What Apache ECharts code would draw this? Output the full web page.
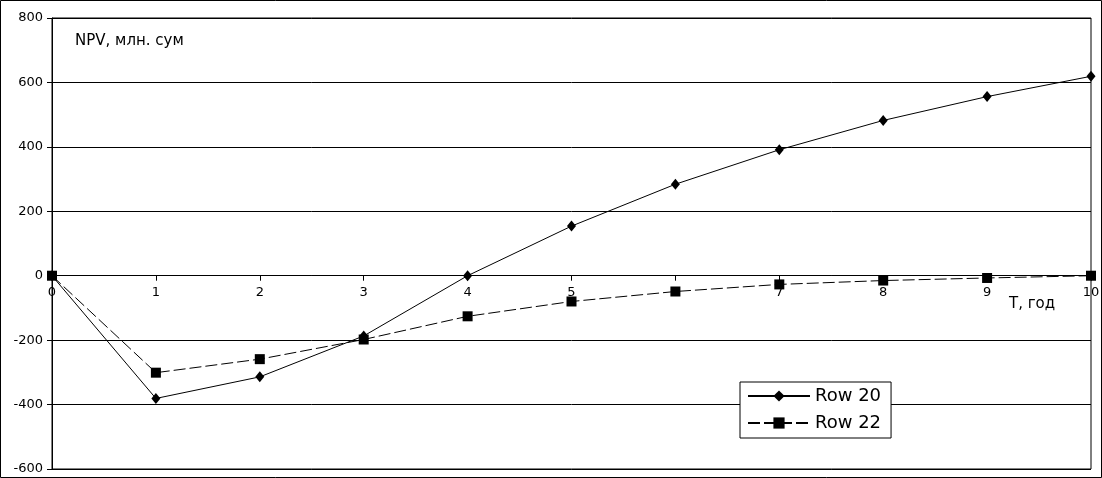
<!DOCTYPE html>
<html>
<head>
<meta charset="utf-8">
<script src="https://cdn.jsdelivr.net/npm/echarts@6/dist/echarts.min.js"></script>
<style>
html,body{margin:0;padding:0;background:#fff;}
#c{width:1102px;height:478px;}
</style>
</head>
<body>
<div id="c"></div>
<script>
const categories = ['0','1','2','3','4','5','6','7','8','9','10'];
const row20 = [0, -381, -314, -187, 0, 154, 284, 391, 482, 556, 619];
const row22 = [0, -301, -259, -198, -126, -80, -49, -27, -15, -7, 0];
const seriesNames = ['Row 20', 'Row 22'];
const yTicks = {min: -600, max: 800, interval: 200};
const yTitle = 'NPV, млн. сум';
const xTitle = 'T, год';

const font = 'DejaVu Sans';
const W = 1102, H = 478;
const gridBox = {left: 52, right: 11, top: 18, bottom: 9};
const plotH = H - gridBox.top - gridBox.bottom;
// put the category axis on the y = 0 line
const xAxisOffset = -((0 - yTicks.min) / (yTicks.max - yTicks.min)) * plotH;

const chart = echarts.init(document.getElementById('c'));
chart.setOption({
  animation: false,
  backgroundColor: '#fff',
  textStyle: {fontFamily: font, color: '#000'},
  grid: Object.assign({containLabel: false, outerBoundsMode: 'none', show: true, borderColor: '#000', borderWidth: 1, backgroundColor: 'transparent'}, gridBox),
  graphic: [
    {type: 'rect', shape: {x: 0.5, y: 0.5, width: W - 1, height: H - 1}, style: {fill: 'none', stroke: '#000', lineWidth: 1}, z: 100},
    {type: 'text', left: 75, top: 34, style: {text: yTitle, font: '15px "DejaVu Sans"', fill: '#000'}},
    {type: 'text', left: 1009, top: 297, style: {text: xTitle, font: '15px "DejaVu Sans"', fill: '#000'}}
  ],
  legend: {
    orient: 'vertical',
    left: 740, top: 382,
    backgroundColor: '#fff',
    borderColor: '#000', borderWidth: 1,
    padding: [5, 10, 6, 7],
    itemWidth: 62, itemHeight: 14, itemGap: 9,
    textStyle: {fontFamily: font, fontSize: 18, lineHeight: 18, color: '#000'},
    data: seriesNames
  },
  xAxis: {
    type: 'category',
    data: categories,
    boundaryGap: false,
    position: 'bottom',
    offset: xAxisOffset,
    axisLine: {show: true, onZero: false, lineStyle: {color: '#000', width: 1}},
    axisTick: {show: true, length: 5, alignWithLabel: true, lineStyle: {color: '#000'}},
    axisLabel: {fontFamily: font, fontSize: 13, color: '#000', margin: 10, showMinLabel: true, showMaxLabel: true},
    splitLine: {show: false}
  },
  yAxis: {
    type: 'value',
    min: yTicks.min, max: yTicks.max, interval: yTicks.interval,
    axisLine: {show: true, onZero: false, lineStyle: {color: '#000'}},
    axisTick: {show: true, length: 5, lineStyle: {color: '#000'}},
    axisLabel: {fontFamily: font, fontSize: 13, color: '#000', margin: 9},
    splitLine: {show: true, lineStyle: {color: '#000', width: 1}}
  },
  series: [
    {
      name: seriesNames[0], type: 'line', data: row20,
      symbol: 'diamond', symbolSize: [9, 11], showAllSymbol: true,
      lineStyle: {color: '#000', width: 1},
      itemStyle: {color: '#000'},
      z: 5
    },
    {
      name: seriesNames[1], type: 'line', data: row22,
      symbol: 'rect', symbolSize: 10, showAllSymbol: true,
      lineStyle: {color: '#000', width: 1, type: [12, 4]},
      itemStyle: {color: '#000'},
      z: 4
    }
  ]
});
</script>
</body>
</html>
